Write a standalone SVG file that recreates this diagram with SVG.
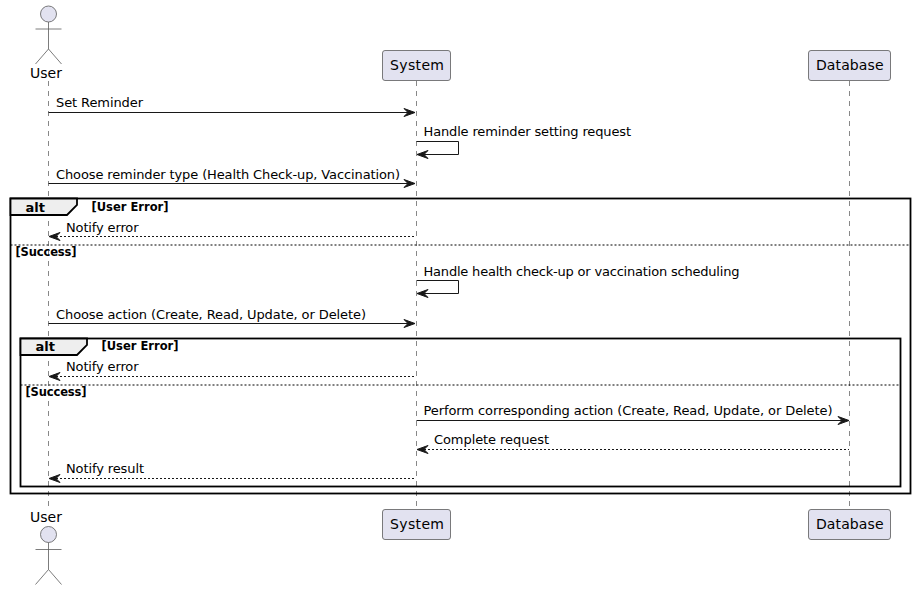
<svg xmlns="http://www.w3.org/2000/svg" width="916" height="590" viewBox="0 0 916 590">
<defs>
<style>
text{font-family:"DejaVu Sans",sans-serif;fill:#000}
.m{font-size:13px}
.p{font-size:14px}
.b{font-size:11.500px;font-weight:bold}
.t{font-size:13px;font-weight:bold}
.life{stroke:#888;stroke-width:1;stroke-dasharray:5,5;fill:none}
.box{fill:#E2E2F0;stroke:#5B5B5B;stroke-width:.8}
.fig{fill:none;stroke:#5B5B5B;stroke-width:.8}
.line{stroke:#181818;stroke-width:1;fill:none}
.dash{stroke:#181818;stroke-width:1;fill:none;stroke-dasharray:2,2}
.frame{fill:none;stroke:#000;stroke-width:1.800}
.tab{fill:#EEEEEE;stroke:#000;stroke-width:1.800}
.sep{stroke:#000;stroke-width:1;stroke-dasharray:2,2;fill:none}
.ah{fill:#181818;stroke:#181818}
</style>
</defs>
<g id="lifelines">
<line class="life" x1="48.500" y1="81" x2="48.500" y2="507"/>
<line class="life" x1="416.500" y1="81" x2="416.500" y2="507"/>
<line class="life" x1="849.500" y1="81" x2="849.500" y2="507"/>
</g>
<g id="User-top">
<circle class="box" cx="48.500" cy="14" r="8"/>
<path class="fig" d="M48.500 22V49M35.500 29H61.500M48.500 49L35.500 64M48.500 49L61.500 64"/>
<text class="p" x="30" y="78" textLength="32">User</text>
</g>
<g id="System-top">
<rect class="box" x="382.500" y="50.500" width="68" height="30" rx="2.500"/>
<text class="p" x="390" y="70" textLength="54">System</text>
</g>
<g id="Database-top">
<rect class="box" x="808.500" y="50.500" width="82" height="30" rx="2.500"/>
<text class="p" x="816" y="70" textLength="67.500">Database</text>
</g>
<g id="User-bottom">
<text class="p" x="30" y="522" textLength="32">User</text>
<circle class="box" cx="48.500" cy="534.500" r="8"/>
<path class="fig" d="M48.500 542.500V569.500M35.500 549.500H61.500M48.500 569.500L35.500 584.500M48.500 569.500L61.500 584.500"/>
</g>
<g id="System-bottom">
<rect class="box" x="382.500" y="509.500" width="68" height="30" rx="2.500"/>
<text class="p" x="390" y="529" textLength="54">System</text>
</g>
<g id="Database-bottom">
<rect class="box" x="808.500" y="509.500" width="82" height="30" rx="2.500"/>
<text class="p" x="816" y="529" textLength="67.500">Database</text>
</g>
<g id="frames">
<rect class="frame" x="10.500" y="198.500" width="900" height="295"/>
<path class="tab" d="M10.500 198.500H77V205L67 215H10.500Z"/>
<text class="t" x="25.500" y="212">alt</text>
<text class="b" x="91.500" y="211" textLength="77">[User Error]</text>
<line class="sep" x1="10.500" y1="245" x2="910.500" y2="245"/>
<text class="b" x="15.500" y="256" textLength="61">[Success]</text>
<rect class="frame" x="20.500" y="338.500" width="880" height="148"/>
<path class="tab" d="M20.500 338.500H87V345L77 355H20.500Z"/>
<text class="t" x="35.500" y="351">alt</text>
<text class="b" x="101.500" y="350" textLength="77">[User Error]</text>
<line class="sep" x1="20.500" y1="385" x2="900.500" y2="385"/>
<text class="b" x="25.500" y="396" textLength="61">[Success]</text>
</g>
<g id="connectors">
<line class="line" x1="48.500" y1="112.500" x2="413" y2="112.500"/>
<polygon class="ah" points="404,108.500 415,112.500 404,116.500 408,112.500"/>
<path class="line" d="M416.500 141.500H458.500V154.500H419"/>
<polygon class="ah" points="428,150.500 417,154.500 428,158.500 424,154.500"/>
<line class="line" x1="48.500" y1="183.500" x2="413" y2="183.500"/>
<polygon class="ah" points="404,179.500 415,183.500 404,187.500 408,183.500"/>
<line class="dash" x1="52" y1="236.500" x2="416" y2="236.500"/>
<polygon class="ah" points="60,232.500 49,236.500 60,240.500 56,236.500"/>
<path class="line" d="M416.500 280.500H458.500V293.500H419"/>
<polygon class="ah" points="428,289.500 417,293.500 428,297.500 424,293.500"/>
<line class="line" x1="48.500" y1="323.500" x2="413" y2="323.500"/>
<polygon class="ah" points="404,319.500 415,323.500 404,327.500 408,323.500"/>
<line class="dash" x1="52" y1="376.500" x2="416" y2="376.500"/>
<polygon class="ah" points="60,372.500 49,376.500 60,380.500 56,376.500"/>
<line class="line" x1="416.500" y1="420.500" x2="846" y2="420.500"/>
<polygon class="ah" points="838,416.500 849,420.500 838,424.500 842,420.500"/>
<line class="dash" x1="420" y1="449.500" x2="849" y2="449.500"/>
<polygon class="ah" points="428,445.500 417,449.500 428,453.500 424,449.500"/>
<line class="dash" x1="52" y1="478.500" x2="416" y2="478.500"/>
<polygon class="ah" points="60,474.500 49,478.500 60,482.500 56,478.500"/>
</g>
<g id="labels">
<text class="m" x="56" y="107" textLength="87">Set Reminder</text>
<text class="m" x="423.500" y="136" textLength="207.500">Handle reminder setting request</text>
<text class="m" x="56" y="179" textLength="344">Choose reminder type (Health Check-up, Vaccination)</text>
<text class="m" x="66" y="232" textLength="72.500">Notify error</text>
<text class="m" x="423.500" y="276" textLength="316">Handle health check-up or vaccination scheduling</text>
<text class="m" x="56" y="319" textLength="310">Choose action (Create, Read, Update, or Delete)</text>
<text class="m" x="66" y="371" textLength="72.500">Notify error</text>
<text class="m" x="423.500" y="415" textLength="409">Perform corresponding action (Create, Read, Update, or Delete)</text>
<text class="m" x="434" y="444" textLength="115">Complete request</text>
<text class="m" x="66" y="473" textLength="78">Notify result</text>
</g>
</svg>
